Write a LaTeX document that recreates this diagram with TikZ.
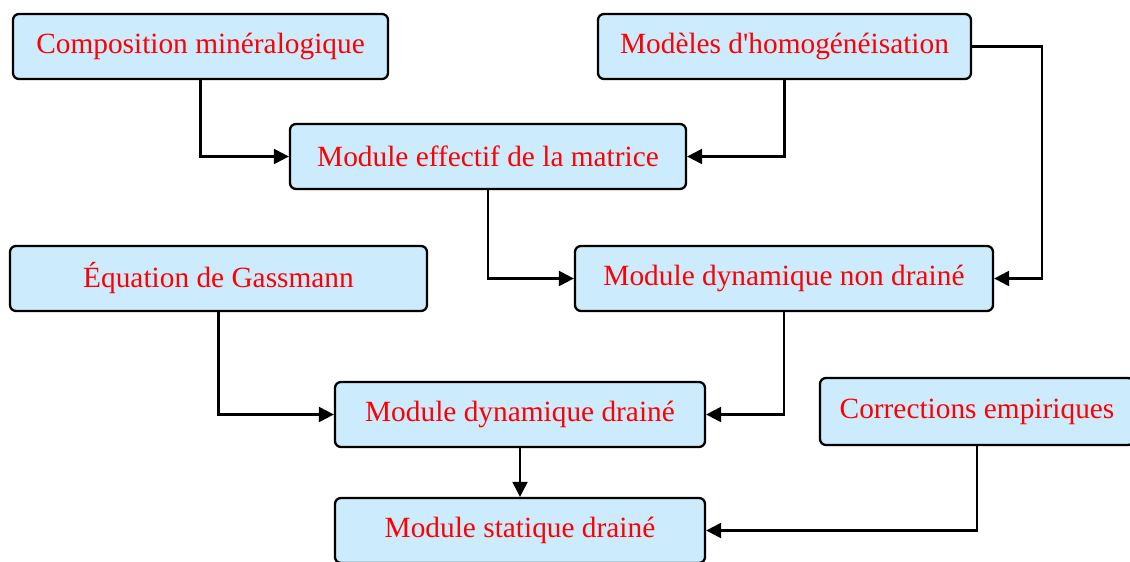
\documentclass[tikz,border=0pt]{standalone}
\usepackage{fontspec}
\setmainfont{Liberation Serif}
\usetikzlibrary{arrows.meta}

\begin{document}
\begin{tikzpicture}[font=\fontsize{16.7}{20}\selectfont,
>={Triangle[length=3mm,width=3mm]},
line width=1.3pt]
\tikzstyle{box} = [draw, rounded corners=1.2mm, fill={rgb,255:red,204;green,235;blue,253}, text=red, minimum height=1.3cm, inner sep=0pt]

\useasboundingbox (0,0) rectangle (22.6,11.22);

\node[box,minimum width=7.5cm](comp) at (4.01,10.29){Composition minéralogique};
\node[box,minimum width=7.46cm](homog) at (15.69,10.29){Modèles d\textquotesingle homogénéisation};
\node[box,minimum width=7.92cm](effectif) at (9.76,8.09){Module effectif de la matrice};
\node[box,minimum width=8.34cm](gass) at (4.37,5.65){Équation de Gassmann};
\node[box,minimum width=8.36cm](nondr) at (15.68,5.65){Module dynamique non drainé};
\node[box,minimum width=7.4cm](dyndr) at (10.40,2.93){Module dynamique drainé};
\node[box,minimum width=6.28cm,minimum height=1.34cm](corr) at (19.54,2.99){Corrections empiriques};
\node[box,minimum width=7.4cm](stat) at (10.40,0.61){Module statique drainé};

\draw[->] (comp.south) |- (effectif.west);
\draw[->] (homog.south) |- (effectif.east);
\draw[->] (homog.east) -- ([xshift=14mm]homog.east) |- (nondr.east);
\draw[->] (effectif.south) |- (nondr.west);
\draw[->] (gass.south) |- (dyndr.west);
\draw[->] (nondr.south) |- (dyndr.east);
\draw[->] (dyndr.south) -- (stat.north);
\draw[->] (corr.south) |- (stat.east);

\end{tikzpicture}
\end{document}
